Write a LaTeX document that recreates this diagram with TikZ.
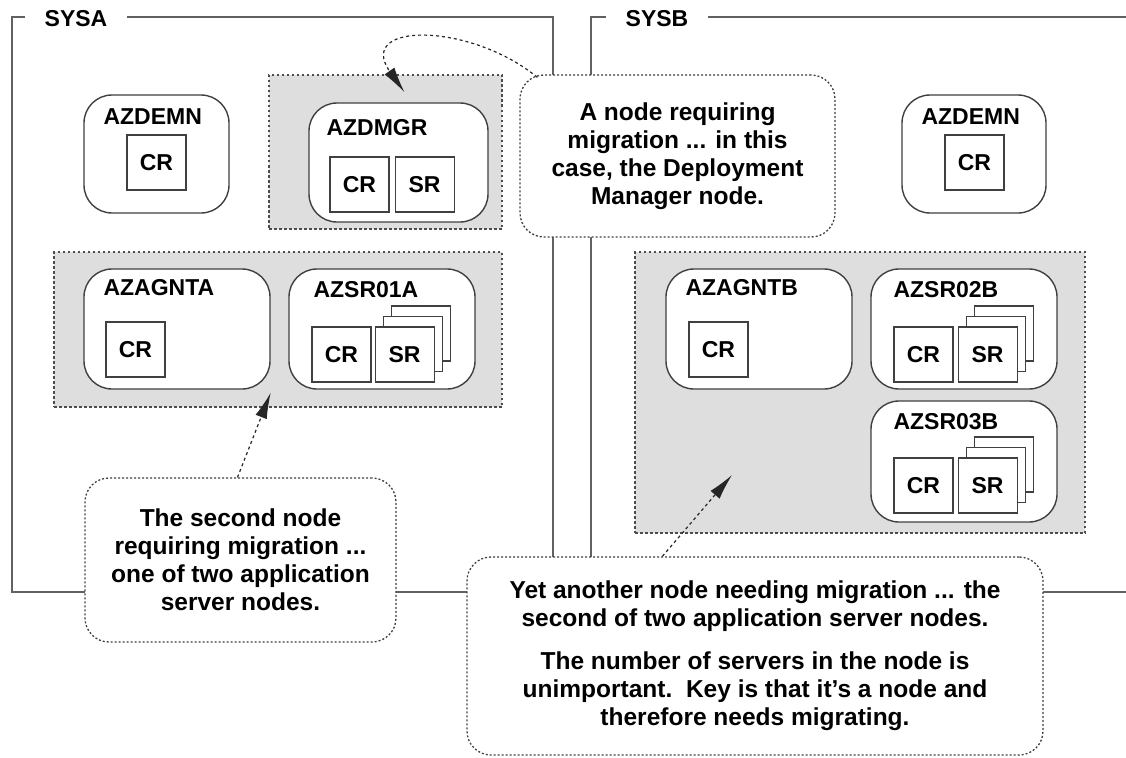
\documentclass[tikz,border=0pt]{standalone}
\usepackage{fontspec}
\setmainfont{Liberation Sans}
\usetikzlibrary{arrows.meta, positioning, calc}

\tikzstyle{line} = [draw, black!85, line width=1.2pt, dash pattern=on 3pt off 3pt, -{Latex[length=26pt, width=12pt]}]

\begin{document}
\begin{tikzpicture}[x=1pt, y=-1pt, font=\fontsize{23}{28}\selectfont\bfseries]
  % Define styles
  \tikzstyle{sysframe} = [draw=black!62, line width=1.8pt]
  \tikzstyle{syslabel} = [fill=white, inner xsep=20pt, inner ysep=3pt]
  \tikzstyle{area} = [rectangle, draw=black!70, fill=black!13, line width=2pt, dash pattern=on 2.5pt off 2.5pt]
  \tikzstyle{nodebox} = [rectangle, rounded corners=28pt, draw=black!75, fill=white, line width=1.4pt, minimum width=186pt, minimum height=120pt]
  \tikzstyle{nodelabel} = [anchor=west, inner sep=0pt]
  \tikzstyle{srv} = [rectangle, draw=black!75, fill=white, line width=1.2pt, minimum width=59pt, minimum height=55pt, inner sep=0pt]
  \tikzstyle{note} = [rectangle, rounded corners=24pt, draw=black!75, fill=white, line width=1.3pt, dash pattern=on 2pt off 2pt, align=center, font=\fontsize{24.5}{28}\selectfont\bfseries]

  \useasboundingbox (0,0) rectangle (1126,757);

  % System frames
  \coordinate (sysAnw) at (12,17);
  \coordinate (sysAse) at (553,592);
  \draw [sysframe] (sysAnw) rectangle (sysAse);
  \draw [sysframe] (1126,17) -- (591,17) -- (591,592) -- (1126,592);
  \node [syslabel] (sysAlabel) at (76,19) {SYSA};
  \node [syslabel] (sysBlabel) at (657,19) {SYSB};

  % Shaded areas
  \node [area, minimum width=233pt, minimum height=154pt] (dmgrArea) at (385.5,152) {};
  \node [area, minimum width=448pt, minimum height=155pt] (appAreaA) at (278,329.5) {};
  \node [area, minimum width=450pt, minimum height=281pt] (appAreaB) at (860,392.5) {};

  % SYSA nodes
  \node [nodebox, minimum width=145pt, minimum height=118pt] (demnA) at (156.5,154) {};
  \node [nodelabel] (demnAlabel) at ($(demnA.north west)+(20,22)$) {AZDEMN};
  \node [srv, anchor=north west] (demnAcr) at ($(demnA.north west)+(43,40)$) {CR};

  \node [nodebox, minimum width=179pt, minimum height=119pt] (dmgr) at (398.5,162.5) {};
  \node [nodelabel] (dmgrlabel) at ($(dmgr.north west)+(18,25)$) {AZDMGR};
  \node [srv, anchor=north west] (dmgrcr) at ($(dmgr.north west)+(21,54)$) {CR};
  \node [srv, right=5pt of dmgrcr] (dmgrsr) {SR};

  \node [nodebox] (agntA) at (177,329) {};
  \node [nodelabel] (agntAlabel) at ($(agntA.north west)+(20,19)$) {AZAGNTA};
  \node [srv, anchor=north west] (agntAcr) at ($(agntA.north west)+(22,53)$) {CR};

  \node [nodebox] (sr01A) at (382,329) {};
  \node [nodelabel] (sr01Alabel) at ($(sr01A.north west)+(25,21)$) {AZSR01A};
  \node [srv, anchor=north west] (sr01Acr) at ($(sr01A.north west)+(23,58)$) {CR};
  \node [srv, right=3pt of sr01Acr, xshift=16pt, yshift=21pt] (sr01Asr3) {};
  \node [srv, right=3pt of sr01Acr, xshift=8pt, yshift=10.5pt] (sr01Asr2) {};
  \node [srv, right=3pt of sr01Acr] (sr01Asr) {SR};

  % SYSB nodes
  \node [nodebox, minimum width=144pt, minimum height=118pt] (demnB) at (974,154) {};
  \node [nodelabel] (demnBlabel) at ($(demnB.north west)+(20,22)$) {AZDEMN};
  \node [srv, anchor=north west] (demnBcr) at ($(demnB.north west)+(43,40)$) {CR};

  \node [nodebox] (agntB) at (759,329) {};
  \node [nodelabel] (agntBlabel) at ($(agntB.north west)+(20,19)$) {AZAGNTB};
  \node [srv, anchor=north west] (agntBcr) at ($(agntB.north west)+(23,53)$) {CR};

  \node [nodebox] (sr02B) at (964,329) {};
  \node [nodelabel] (sr02Blabel) at ($(sr02B.north west)+(23,21)$) {AZSR02B};
  \node [srv, anchor=north west] (sr02Bcr) at ($(sr02B.north west)+(23,58)$) {CR};
  \node [srv, right=4pt of sr02Bcr, xshift=16pt, yshift=21pt] (sr02Bsr3) {};
  \node [srv, right=4pt of sr02Bcr, xshift=8pt, yshift=10.5pt] (sr02Bsr2) {};
  \node [srv, right=4pt of sr02Bcr] (sr02Bsr) {SR};

  \node [nodebox, minimum height=121pt] (sr03B) at (964,461.5) {};
  \node [nodelabel] (sr03Blabel) at ($(sr03B.north west)+(23,21)$) {AZSR03B};
  \node [srv, anchor=north west] (sr03Bcr) at ($(sr03B.north west)+(23,57)$) {CR};
  \node [srv, right=4pt of sr03Bcr, xshift=16pt, yshift=21pt] (sr03Bsr3) {};
  \node [srv, right=4pt of sr03Bcr, xshift=8pt, yshift=10.5pt] (sr03Bsr2) {};
  \node [srv, right=4pt of sr03Bcr] (sr03Bsr) {SR};

  % Callouts
  \node [note, minimum width=315pt, minimum height=162pt] (dmgrNote) at (677.5,156)
    {A node requiring\\migration ... in this\\case, the Deployment\\Manager node.};
  \node [note, minimum width=311pt, minimum height=164pt] (agntNote) at (240.5,560)
    {The second node\\requiring migration ...\\one of two application\\server nodes.};
  \node [note, minimum width=576pt, minimum height=198pt] (appBNote) at (755,656)
    {Yet another node needing migration ... the\\second of two application server nodes.\\[15pt]
     The number of servers in the node is\\unimportant.\ \ Key is that it's a node and\\therefore needs migrating.};

  % Pointers
  \coordinate (dmgrTip) at ($(dmgr.north)+(6,-10)$);
  \coordinate (appATip) at ($(agntA.south east)+(0,3)$);
  \coordinate (appBTip) at (732,475);
  \path [line] ($(dmgrNote.north west)+(18,3)$) .. controls (470,22) and (355,22) .. (dmgrTip);
  \path [line] ([xshift=-3pt]agntNote.north) -- (appATip);
  \path [line] ($(appBNote.north west)+(196,0)$) -- (appBTip);

\end{tikzpicture}
\end{document}
